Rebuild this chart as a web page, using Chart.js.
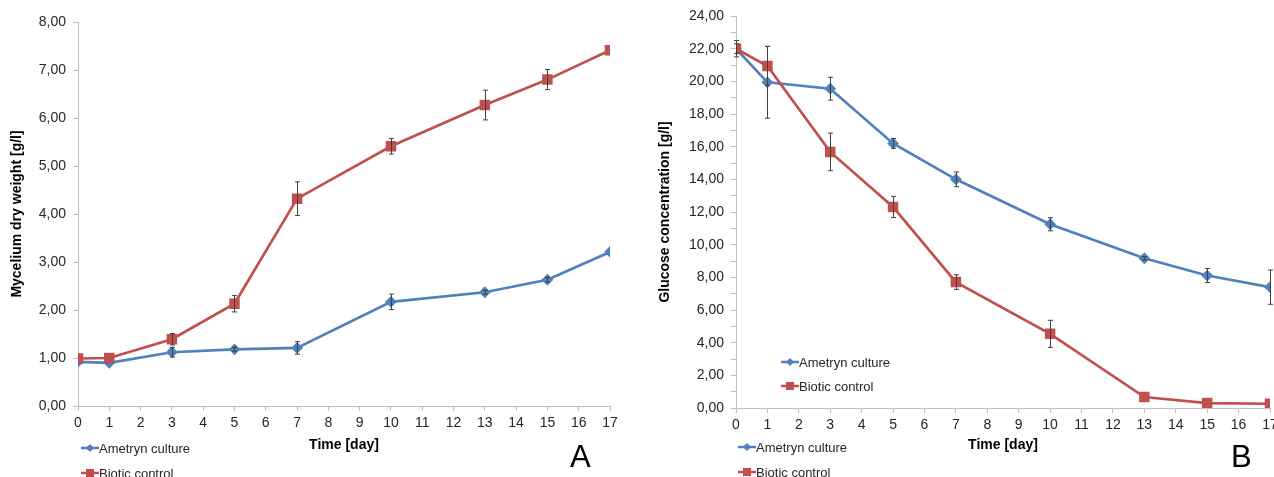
<!DOCTYPE html>
<html>
<head>
<meta charset="utf-8">
<script src="https://cdn.jsdelivr.net/npm/chart.js@4"></script>
<style>
    body { margin: 0; width: 1274px; height: 477px; overflow: hidden; position: relative; background: #fff; font-family: 'Liberation Sans', Arial, sans-serif; }
    canvas { position: absolute; top: 0; }
    #chartA { left: 0; }
    #chartB { left: 640px; }
    .legend-item { position: absolute; display: flex; align-items: center; height: 24px; font-size: 13px; color: #262626; white-space: nowrap; }
    .legend-item svg { display: block; }
    .panel-letter { position: absolute; font-size: 31px; line-height: 31px; color: #000; }
</style>
</head>
<body>
<canvas id="chartA" width="640" height="477"></canvas>
<canvas id="chartB" width="660" height="477"></canvas>
<div class="panel-letter" style="left:570px; top:441px;">A</div>
<div class="panel-letter" style="left:1231px; top:441px;">B</div>

<script>
// Data
const days = [0, 1, 3, 5, 7, 10, 13, 15, 17];
const seriesNames = ['Ametryn culture', 'Biotic control'];

// A - mycelium dry weight [g/l]
const dryWeightAmetryn = [0.92, 0.90, 1.12, 1.18, 1.21, 2.17, 2.37, 2.63, 3.21];
const dryWeightAmetrynSd = [0, 0, 0.10, 0.04, 0.13, 0.16, 0.04, 0.05, 0];
const dryWeightBiotic = [0.99, 1.00, 1.39, 2.13, 4.32, 5.41, 6.27, 6.80, 7.41];
const dryWeightBioticSd = [0, 0, 0.12, 0.17, 0.35, 0.16, 0.31, 0.21, 0];

// B - glucose concentration [g/l]
const glucoseAmetryn = [22.00, 19.94, 19.55, 16.20, 14.00, 11.25, 9.17, 8.11, 7.40];
const glucoseAmetrynSd = [0.50, 2.20, 0.70, 0.30, 0.45, 0.40, 0.10, 0.43, 1.05];
const glucoseBiotic = [22.00, 20.94, 15.68, 12.31, 7.71, 4.54, 0.67, 0.30, 0.26];
const glucoseBioticSd = [0.30, 1.20, 1.15, 0.65, 0.45, 0.83, 0, 0, 0];

const BLUE = '#4f81bd';
const RED = '#c0504d';
const AXIS = '#bfbfbf';
const TEXT = '#262626';
const FONT = "'Liberation Sans', Arial, sans-serif";

Chart.defaults.font.family = FONT;
Chart.defaults.color = TEXT;

// Excel-style vertical error bars
const errorBars = {
    id: 'errorBars',
    afterDatasetsDraw(chart) {
        const { ctx, scales: { x, y } } = chart;
        ctx.save();
        ctx.strokeStyle = '#404040';
        ctx.lineWidth = 1;
        chart.data.datasets.forEach(ds => {
            ds.data.forEach((pt, i) => {
                const e = ds.errors[i];
                if (!e) return;
                const px = Math.round(x.getPixelForValue(pt.x)) + 0.5;
                const top = y.getPixelForValue(pt.y + e);
                const bot = y.getPixelForValue(pt.y - e);
                ctx.beginPath();
                ctx.moveTo(px, top); ctx.lineTo(px, bot);
                ctx.moveTo(px - 2.5, top); ctx.lineTo(px + 2.5, top);
                ctx.moveTo(px - 2.5, bot); ctx.lineTo(px + 2.5, bot);
                ctx.stroke();
            });
        });
        ctx.restore();
    }
};

function toPoints(values) {
    return values.map((v, i) => ({ x: days[i], y: v }));
}

function commaFormat(v) {
    return v.toFixed(2).replace('.', ',');
}

function makeDatasets(ametryn, ametrynSd, biotic, bioticSd) {
    return [
        {
            label: seriesNames[0],
            data: toPoints(ametryn),
            errors: ametrynSd,
            borderColor: BLUE,
            backgroundColor: BLUE,
            borderWidth: 2.7,
            pointStyle: 'rectRot',
            pointRadius: 4,
            order: 2
        },
        {
            label: seriesNames[1],
            data: toPoints(biotic),
            errors: bioticSd,
            borderColor: RED,
            backgroundColor: RED,
            borderWidth: 2.7,
            pointStyle: 'rect',
            pointRadius: 5.5,
            order: 1
        }
    ];
}

function makeChart(id, cfg) {
    const ctx = document.getElementById(id).getContext('2d');
    return new Chart(ctx, {
        type: 'line',
        data: { datasets: cfg.datasets },
        plugins: [errorBars],
        options: {
            responsive: false,
            animation: false,
            events: [],
            layout: { padding: cfg.padding },
            plugins: { legend: { display: false }, tooltip: { enabled: false } },
            scales: {
                x: {
                    type: 'linear',
                    min: 0,
                    max: 17,
                    afterFit: s => { s.height = cfg.xHeight; },
                    border: { color: AXIS, width: 1 },
                    grid: { drawOnChartArea: false, drawTicks: true, tickLength: 5, color: AXIS },
                    ticks: { stepSize: 1, padding: 4, color: TEXT, font: { size: 14 } },
                    title: {
                        display: true,
                        text: 'Time [day]',
                        color: '#000',
                        font: { size: 14, weight: 'bold' },
                        padding: { top: 23, bottom: 23 }
                    }
                },
                y: {
                    min: 0,
                    max: cfg.yMax,
                    afterFit: s => { s.width = cfg.yWidth; },
                    border: { color: AXIS, width: 1 },
                    grid: { drawOnChartArea: false, drawTicks: true, tickLength: 5, color: AXIS },
                    ticks: {
                        stepSize: 1,
                        padding: 7,
                        color: TEXT,
                        font: { size: 14 },
                        autoSkip: false,
                        callback: v => (v % cfg.labelStep === 0 ? commaFormat(v) : '')
                    },
                    title: {
                        display: true,
                        text: cfg.yTitle,
                        color: '#000',
                        font: { size: 14, weight: 'bold' },
                        padding: { top: cfg.yTitlePad, bottom: cfg.yTitlePad }
                    }
                }
            }
        }
    });
}

makeChart('chartA', {
    datasets: makeDatasets(dryWeightAmetryn, dryWeightAmetrynSd, dryWeightBiotic, dryWeightBioticSd),
    padding: { top: 22, right: 30, left: 0, bottom: 0 },
    xHeight: 71,
    yWidth: 78,
    yMax: 8,
    labelStep: 1,
    yTitle: 'Mycelium dry weight [g/l]',
    yTitlePad: 8.6
});

makeChart('chartB', {
    datasets: makeDatasets(glucoseAmetryn, glucoseAmetrynSd, glucoseBiotic, glucoseBioticSd),
    padding: { top: 16, right: 30, left: 0, bottom: 0 },
    xHeight: 69,
    yWidth: 96,
    yMax: 24,
    labelStep: 2,
    yTitle: 'Glucose concentration [g/l]',
    yTitlePad: 16.6
});

// HTML legends (line with marker + label)
const markerSvg = [
    '<svg width="18" height="12"><line x1="0" y1="6" x2="18" y2="6" stroke="' + BLUE + '" stroke-width="2.5"/><polygon points="9,2 13,6 9,10 5,6" fill="' + BLUE + '"/></svg>',
    '<svg width="18" height="12"><line x1="0" y1="6" x2="18" y2="6" stroke="' + RED + '" stroke-width="2.5"/><rect x="5" y="2" width="8" height="8" fill="' + RED + '"/></svg>'
];

function addLegend(left, firstY, step) {
    seriesNames.forEach((name, i) => {
        const item = document.createElement('div');
        item.className = 'legend-item';
        item.style.left = left + 'px';
        item.style.top = (firstY + i * step - 12) + 'px';
        item.innerHTML = markerSvg[i] + '<span>' + name + '</span>';
        document.body.appendChild(item);
    });
}

addLegend(81, 448, 25);
addLegend(738, 447, 25);
addLegend(781, 362, 24);
</script>
</body>
</html>
